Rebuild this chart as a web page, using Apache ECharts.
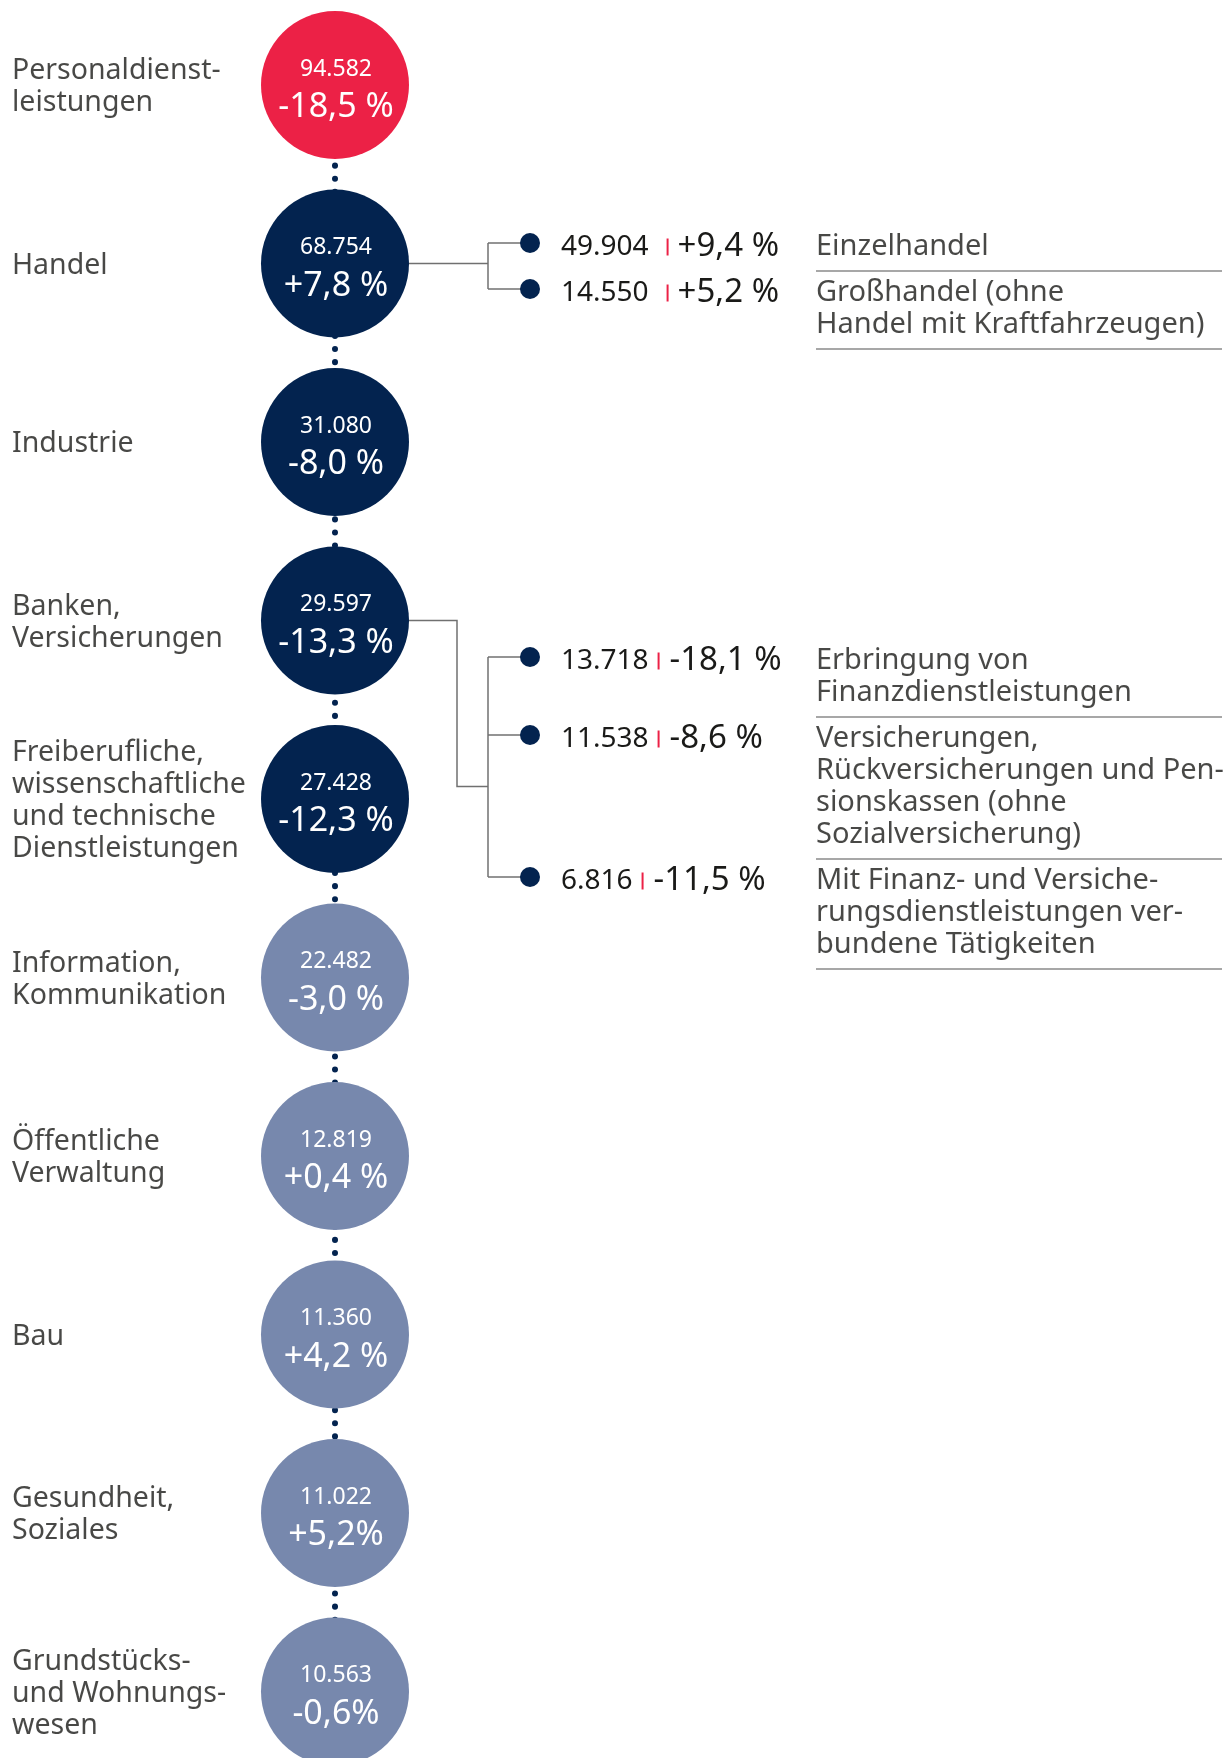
<!DOCTYPE html>
<html>
<head>
<meta charset="utf-8">
<script src="https://cdn.jsdelivr.net/npm/echarts@6/dist/echarts.min.js"></script>
<style>
    html, body {margin: 0; padding: 0; background: #fff;}
    #chart {width: 1230px; height: 1758px;}
</style>
</head>
<body>
<div id="chart"></div>
<script>
// Sectors, jobs and change vs. previous year
const sectors = [
    'Personaldienst-\nleistungen',
    'Handel',
    'Industrie',
    'Banken,\nVersicherungen',
    'Freiberufliche,\nwissenschaftliche\nund technische\nDienstleistungen',
    'Information,\nKommunikation',
    'Öffentliche\nVerwaltung',
    'Bau',
    'Gesundheit,\nSoziales',
    'Grundstücks-\nund Wohnungs-\nwesen',
];
const jobs = [94582, 68754, 31080, 29597, 27428, 22482, 12819, 11360, 11022, 10563];
const change = [-18.5, 7.8, -8.0, -13.3, -12.3, -3.0, 0.4, 4.2, 5.2, -0.6];

// Breakdown of Handel
const handelSubs = ['Einzelhandel', 'Großhandel (ohne\nHandel mit Kraftfahrzeugen)'];
const handelSubJobs = [49904, 14550];
const handelSubChange = [9.4, 5.2];

// Breakdown of Banken, Versicherungen
const bankSubs = [
    'Erbringung von\nFinanzdienstleistungen',
    'Versicherungen,\nRückversicherungen und Pen-\nsionskassen (ohne\nSozialversicherung)',
    'Mit Finanz- und Versiche-\nrungsdienstleistungen ver-\nbundene Tätigkeiten',
];
const bankSubJobs = [13718, 11538, 6816];
const bankSubChange = [-18.1, -8.6, -11.5];

const RED = '#ec2146';
const NAVY = '#03234f';
const LIGHT = '#7788ad';
const TEXT = '#1a1a18';
const FONT = '"Noto Sans", sans-serif';

// layout (px)
const HEIGHT = 1758;
const ROW0 = 85;
const ROW_STEP = 178.5;
const CIRCLE_X = 335;
const CIRCLE_SIZE = 148;
const LABEL_X = 12;
const TRUNK_X = 488;
const DOT_X = 530;
const DESC_X = 816;
const RULE_END = 1222;
const LINE_H = 32;

const fmtNum = v => String(v).replace(/\B(?=(\d{3})+(?!\d))/g, '.');
const fmtPct = (v, tight) => (v > 0 ? '+' : v < 0 ? '-' : '') +
    Math.abs(v).toFixed(1).replace('.', ',') + (tight ? '%' : ' %');
// printed without the space in the original
const tightPct = new Set([8, 9]);

const circleColor = i => i === 0 ? RED : i <= 4 ? NAVY : LIGHT;
const pxToRow = (parent, dy) => parent + dy / ROW_STEP;

// Build sub-item groups: dot rows, rule rows, connectors
const groups = [
    {parent: 1, names: handelSubs, jobs: handelSubJobs, change: handelSubChange,
        firstDy: -20.5, elbowX: TRUNK_X, junctionDy: 0, gapA: 18, gapB: 9},
    {parent: 3, names: bankSubs, jobs: bankSubJobs, change: bankSubChange,
        firstDy: 36.5, elbowX: 457, junctionDy: 166, gapA: 9, gapB: 10},
];
const subDots = [];
const subDescs = [];
const rules = [];
const connectors = [];
for (const g of groups) {
    let dy = g.firstDy;
    const dys = [];
    g.names.forEach((name, i) => {
        const lines = name.split('\n').length;
        dys.push(dy);
        const row = pxToRow(g.parent, dy);
        subDots.push({value: [DOT_X, row], jobs: g.jobs[i], change: g.change[i], gapA: g.gapA, gapB: g.gapB});
        subDescs.push({value: [DESC_X, row], name});
        const ruleDy = dy + (lines - 1) * LINE_H + 28;
        const ruleRow = pxToRow(g.parent, ruleDy);
        rules.push({coords: [[DESC_X, ruleRow], [RULE_END, ruleRow]]});
        dy = ruleDy + 18;
    });
    const pRow = g.parent;
    const jRow = pxToRow(g.parent, g.junctionDy);
    connectors.push({coords: [[CIRCLE_X, pRow], [g.elbowX, pRow], [g.elbowX, jRow], [TRUNK_X, jRow]]});
    connectors.push({coords: [[TRUNK_X, pxToRow(pRow, dys[0])], [TRUNK_X, pxToRow(pRow, dys.at(-1))]]});
    for (const d of dys) {
        const r = pxToRow(pRow, d);
        connectors.push({coords: [[TRUNK_X, r], [DOT_X, r]]});
    }
}

const chart = echarts.init(document.getElementById('chart'), null, {renderer: 'canvas'});
chart.setOption({
    animation: false,
    backgroundColor: '#fff',
    textStyle: {fontFamily: FONT},
    grid: {left: 0, right: 0, top: 0, bottom: 0},
    xAxis: {type: 'value', min: 0, max: 1230, show: false},
    // row i sits at ROW0 + i * ROW_STEP px
    yAxis: {type: 'value', min: -ROW0 / ROW_STEP, max: (HEIGHT - ROW0) / ROW_STEP, inverse: true, show: false},
    series: [{
        // dotted spine between circles
        type: 'line',
        data: [[CIRCLE_X, 0], [CIRCLE_X, sectors.length - 1]],
        symbol: 'none',
        silent: true,
        z: 1,
        lineStyle: {color: NAVY, width: 6, type: [0.1, 13], cap: 'round', dashOffset: -2},
    }, {
        type: 'lines',
        coordinateSystem: 'cartesian2d',
        polyline: true,
        silent: true,
        z: 1,
        lineStyle: {color: '#707070', width: 1.5, opacity: 1},
        data: connectors,
    }, {
        type: 'lines',
        coordinateSystem: 'cartesian2d',
        silent: true,
        z: 1,
        lineStyle: {color: '#8a8a8a', width: 1.5, opacity: 1},
        data: rules,
    }, {
        type: 'scatter',
        z: 3,
        symbolSize: CIRCLE_SIZE,
        data: jobs.map((v, i) => ({
            value: [CIRCLE_X, i],
            itemStyle: {color: circleColor(i), opacity: 1},
            label: {formatter: `{v|${fmtNum(v)}}\n{p|${fmtPct(change[i], tightPct.has(i))}}`},
        })),
        label: {
            show: true,
            position: 'inside',
            offset: [1, 4],
            rich: {
                v: {fontFamily: FONT, fontSize: 23, lineHeight: 37, color: '#fff'},
                p: {fontFamily: FONT, fontSize: 34, lineHeight: 40, color: '#fff'},
            },
        },
    }, {
        type: 'scatter',
        z: 3,
        symbolSize: 0,
        itemStyle: {color: 'transparent'},
        data: sectors.map((s, i) => ({value: [LABEL_X, i], name: s})),
        label: {
            show: true,
            position: 'right',
            distance: 0,
            align: 'left',
            offset: [0, 2],
            formatter: p => p.name,
            fontFamily: FONT,
            fontSize: 28.5,
            lineHeight: LINE_H,
            color: TEXT,
        },
    }, {
        type: 'scatter',
        z: 3,
        symbolSize: 20,
        itemStyle: {color: NAVY, opacity: 1},
        data: subDots.map(d => ({
            value: d.value,
            label: {
                formatter: `{n|${fmtNum(d.jobs)}}{s|}{t|}{s2|}{p|${fmtPct(d.change)}}`,
                rich: {
                    n: {fontFamily: FONT, fontSize: 28, color: TEXT},
                    s: {width: d.gapA, height: 17},
                    t: {width: 2, height: 17, backgroundColor: RED},
                    s2: {width: d.gapB, height: 17},
                    p: {fontFamily: FONT, fontSize: 33, color: TEXT},
                },
            },
        })),
        label: {show: true, position: 'right', distance: 21, offset: [0, 4]},
    }, {
        type: 'scatter',
        z: 3,
        symbolSize: 0,
        itemStyle: {color: 'transparent'},
        data: subDescs,
        label: {
            show: true,
            position: [0, 0],
            offset: [0, -LINE_H / 2 + 4],
            align: 'left',
            verticalAlign: 'top',
            formatter: p => p.name,
            fontFamily: FONT,
            fontSize: 29,
            lineHeight: LINE_H,
            color: TEXT,
        },
    }],
});
</script>
</body>
</html>
